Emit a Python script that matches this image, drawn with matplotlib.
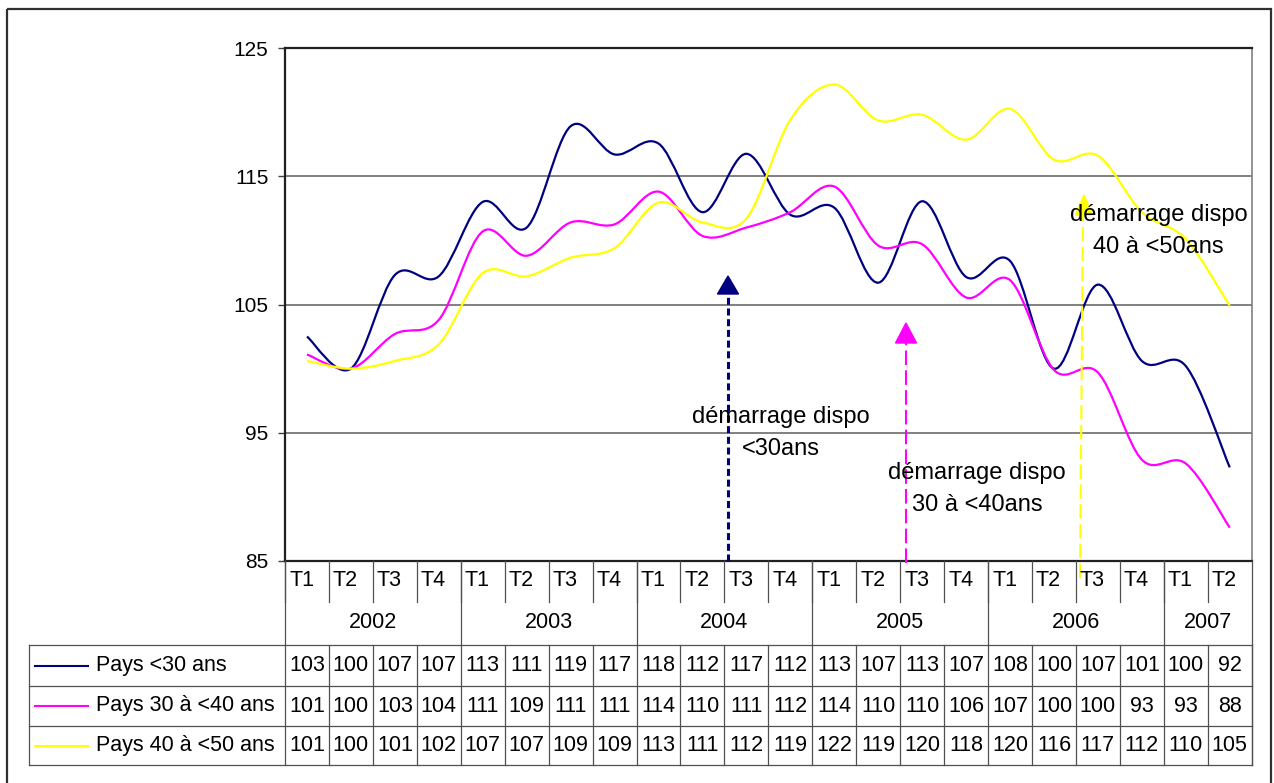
import numpy as np
import matplotlib
matplotlib.use("Agg")
import matplotlib.pyplot as plt
from matplotlib.path import Path
from matplotlib.patches import PathPatch, Polygon, Rectangle

plt.rcParams['font.family'] = ['Liberation Sans', 'DejaVu Sans']

# quarterly index values
pays_30 = [102.5, 100.0, 107.3, 107.2, 113.0, 111.0, 118.9, 116.7, 117.55, 112.2, 116.75,
           112.0, 112.55, 106.7, 113.05, 107.15, 108.4, 100.0, 106.55, 100.6, 100.2, 92.3]
pays_30_40 = [101.1, 100.0, 102.7, 103.8, 110.7, 108.8, 111.4, 111.25, 113.8, 110.35, 111.0,
              112.2, 114.2, 109.6, 109.7, 105.55, 106.9, 99.9, 99.7, 92.9, 92.6, 87.6]
pays_40_50 = [100.6, 100.0, 100.6, 101.9, 107.45, 107.2, 108.65, 109.4, 112.95, 111.4, 111.7,
              119.4, 122.15, 119.35, 119.8, 117.85, 120.25, 116.3, 116.6, 112.2, 110.1, 104.9]

# values printed in the data table
tab_30 = [103, 100, 107, 107, 113, 111, 119, 117, 118, 112, 117, 112, 113, 107, 113, 107, 108, 100, 107, 101, 100, 92]
tab_30_40 = [101, 100, 103, 104, 111, 109, 111, 111, 114, 110, 111, 112, 114, 110, 110, 106, 107, 100, 100, 93, 93, 88]
tab_40_50 = [101, 100, 101, 102, 107, 107, 109, 109, 113, 111, 112, 119, 122, 119, 120, 118, 120, 116, 117, 112, 110, 105]

quarters = ['T1', 'T2', 'T3', 'T4'] * 5 + ['T1', 'T2']
years = ['2002', '2003', '2004', '2005', '2006', '2007']
year_len = [4, 4, 4, 4, 4, 2]
series_names = ['Pays <30 ans', 'Pays 30 à <40 ans', 'Pays 40 à <50 ans']
colors = ['#000080', '#FF00FF', '#FFFF00']
yticks = [85, 95, 105, 115, 125]

W, H = 1274, 783
fig = plt.figure(figsize=(W / 100, H / 100), dpi=100)
fig.patch.set_facecolor('white')

# plot area in pixels
px_l, px_r, px_t, px_b = 285, 1251.7, 48, 561
ax = fig.add_axes([px_l / W, 1 - px_b / H, (px_r - px_l) / W, (px_b - px_t) / H])
ax.set_xlim(-0.5, len(quarters) - 0.5)
ax.set_ylim(85, 125)
ax.set_yticks(yticks)
ax.set_xticks([])
ax.tick_params(axis='y', length=5, width=1, color='#404040', pad=7, labelsize=15)
for y in yticks[1:-1]:
    ax.axhline(y, color='#808080', lw=1.4, zorder=1)
for s in ['left', 'top', 'bottom']:
    ax.spines[s].set_color('#202020')
    ax.spines[s].set_linewidth(1.6)
ax.spines['right'].set_color('#808080')
ax.spines['right'].set_linewidth(1.2)


def smooth_path(xs, ys):
    # bezier smoothing like excel's "smoothed line"
    pts = np.column_stack([xs, ys]).astype(float)
    verts = [pts[0]]
    codes = [Path.MOVETO]
    n = len(pts)
    for i in range(n - 1):
        p0 = pts[max(i - 1, 0)]
        p1 = pts[i]
        p2 = pts[i + 1]
        p3 = pts[min(i + 2, n - 1)]
        c1 = p1 + (p2 - p0) / 6
        c2 = p2 - (p3 - p1) / 6
        verts += [c1, c2, p2]
        codes += [Path.CURVE4] * 3
    return Path(verts, codes)


xs = np.arange(len(quarters))
for vals, c in zip([pays_30, pays_30_40, pays_40_50], colors):
    ax.add_patch(PathPatch(smooth_path(xs, vals), facecolor='none', edgecolor=c,
                           lw=1.6, zorder=3))

# overlay in pixel coordinates for table and annotations
ov = fig.add_axes([0, 0, 1, 1], zorder=5)
ov.set_xlim(0, W)
ov.set_ylim(H, 0)
ov.axis('off')
ov.patch.set_alpha(0)

ov.add_patch(Rectangle((7, 9), 1264, 800, fill=False, edgecolor='#303030', lw=1.6))

cw = (px_r - px_l) / len(quarters)
lc = '#505050'
tl = 29
rows_y = [645, 686, 726, 765]
fs = 15.5

# header: quarter and year rows
for i, q in enumerate(quarters):
    x = px_l + i * cw
    ov.text(x + 4, 581, q, ha='left', va='center', fontsize=fs)
    ov.plot([x, x], [px_b, 602], color=lc, lw=0.9)
start = 0
for yr, n in zip(years, year_len):
    x0 = px_l + start * cw
    x1 = px_l + (start + n) * cw
    ov.text((x0 + x1) / 2, 622, yr, ha='center', va='center', fontsize=fs)
    ov.plot([x0, x0], [px_b, rows_y[0]], color=lc, lw=0.9)
    start += n
ov.plot([px_r, px_r], [px_b, rows_y[-1]], color=lc, lw=0.9)

# data rows
for y in rows_y:
    ov.plot([tl, px_r], [y, y], color=lc, lw=0.9)
for i in range(len(quarters) + 1):
    x = px_l + i * cw
    ov.plot([x, x], [rows_y[0], rows_y[-1]], color=lc, lw=0.9)
ov.plot([tl, tl], [rows_y[0], rows_y[-1]], color=lc, lw=0.9)

for r, (name, c, vals) in enumerate(zip(series_names, colors, [tab_30, tab_30_40, tab_40_50])):
    yc = (rows_y[r] + rows_y[r + 1]) / 2
    ov.plot([35, 88], [yc, yc], color=c, lw=1.5)
    ov.text(96, yc, name, ha='left', va='center', fontsize=fs)
    for i, v in enumerate(vals):
        ov.text(px_l + (i + 0.5) * cw, yc, str(v), ha='center', va='center', fontsize=fs)

# annotation arrows
ov.plot([728, 728], [561, 294], color='#000080', lw=2.2, dashes=(2.3, 1.2))
ov.add_patch(Polygon([[728, 276], [717.5, 294], [738.5, 294]], color='#000080'))
ov.text(781, 417, 'démarrage dispo', ha='center', va='center', fontsize=17)
ov.text(781, 449, '<30ans', ha='center', va='center', fontsize=17)

ov.plot([906, 906], [563, 343], color='#FF00FF', lw=1.5, dashes=(7, 2.5))
ov.add_patch(Polygon([[906, 323], [895.5, 343], [916.5, 343]], color='#FF00FF'))
ov.text(977, 473, 'démarrage dispo', ha='center', va='center', fontsize=17)
ov.text(977, 505, '30 à <40ans', ha='center', va='center', fontsize=17)

ov.plot([1080, 1083], [578, 214], color='#FFFF00', lw=1.5, dashes=(7, 2.5))
ov.add_patch(Polygon([[1084, 195], [1075.5, 215], [1092.5, 215]], color='#FFFF00'))
ov.text(1159, 215, 'démarrage dispo', ha='center', va='center', fontsize=17)
ov.text(1158, 247, '40 à <50ans', ha='center', va='center', fontsize=17)

fig.savefig('out.png', dpi=100, facecolor='white')
